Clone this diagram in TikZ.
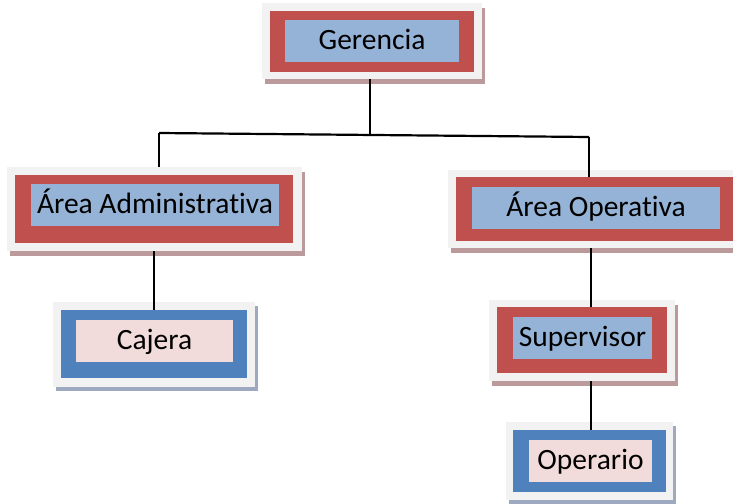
\documentclass[tikz,border=0pt]{standalone}
\usepackage{fontspec}
\setmainfont{Carlito}[Ligatures=NoCommon]
\usetikzlibrary{shadows}
\definecolor{frameg}{HTML}{F2F2F2}
\definecolor{rborder}{HTML}{C0504D}
\definecolor{rinner}{HTML}{95B3D7}
\definecolor{rshadow}{HTML}{BC9A9B}
\definecolor{bborder}{HTML}{4F81BD}
\definecolor{binner}{HTML}{F2DCDB}
\definecolor{bshadow}{HTML}{9CA9BE}
\begin{document}
\begin{tikzpicture}[x=1pt,y=-1pt,
  frame/.style={rectangle, fill=frameg, inner sep=0pt},
  redshadow/.style={general shadow={fill=rshadow, shadow xshift=3pt, shadow yshift=-5pt}},
  blueshadow/.style={general shadow={fill=bshadow, shadow xshift=3pt, shadow yshift=-4pt}},
  redband/.style={rectangle, fill=rborder, inner sep=0pt},
  blueband/.style={rectangle, fill=bborder, inner sep=0pt},
  redlabel/.style={rectangle, fill=rinner, inner sep=0pt, minimum height=42pt,
    font=\fontsize{29.5}{34}\selectfont, text height=20pt, text depth=4pt},
  bluelabel/.style={rectangle, fill=binner, inner sep=0pt, minimum height=42pt,
    font=\fontsize{29.5}{34}\selectfont, text height=20pt, text depth=4pt},
  conn/.style={draw=black, line width=2.2pt}
]
\useasboundingbox (0,0) rectangle (733,503);
\clip (0,0) rectangle (733,503);

% Gerencia
\node[frame, redshadow, minimum width=220pt, minimum height=76pt] (ger) at (372,41) {};
\node[redband, minimum width=204pt, minimum height=61pt] (gerR) at (372,41.5) {};
\node[redlabel, minimum width=174pt] (gerT) at (372,41) {Gerencia};

% Área Administrativa
\node[frame, redshadow, minimum width=295pt, minimum height=84pt] (adm) at (154.5,209) {};
\node[redband, minimum width=278pt, minimum height=68pt] (admR) at (154,209) {};
\node[redlabel, minimum width=248pt] (admT) at (155,205) {Área Administrativa};

% Área Operativa
\node[frame, redshadow, minimum width=296pt, minimum height=78pt] (opv) at (596,209) {};
\node[redband, minimum width=280pt, minimum height=64pt] (opvR) at (596,209) {};
\node[redlabel, minimum width=248pt] (opvT) at (596,208) {Área Operativa};

% Cajera
\node[frame, blueshadow, minimum width=202pt, minimum height=85pt] (caj) at (154,344.5) {};
\node[blueband, minimum width=186pt, minimum height=68pt] (cajR) at (154,344) {};
\node[bluelabel, minimum width=157pt] (cajT) at (154.5,341) {Cajera};

% Supervisor
\node[frame, redshadow, minimum width=186pt, minimum height=81pt] (sup) at (582,340.5) {};
\node[redband, minimum width=170pt, minimum height=66pt] (supR) at (582,340) {};
\node[redlabel, minimum width=139pt] (supT) at (582.5,338) {Supervisor};

% Operario
\node[frame, blueshadow, minimum width=167pt, minimum height=78pt] (ope) at (589.5,461) {};
\node[blueband, minimum width=153pt, minimum height=62pt] (opeR) at (589.5,461) {};
\node[bluelabel, minimum width=123pt] (opeT) at (590.5,461) {Operario};

% connectors
\coordinate (jm) at (370,135);
\coordinate (jl) at (159,133);
\coordinate (jr) at (589,137);
\coordinate (c1) at (154,0);
\coordinate (c2) at (591,0);
\draw[conn] (jm |- ger.south) -- (jm);
\draw[conn] (jl) -- (jr);
\draw[conn] (jl) -- (jl |- adm.north);
\draw[conn] (jr) -- (jr |- opvR.north);
\draw[conn] (c1 |- adm.south) -- (c1 |- cajR.north);
\draw[conn] (c2 |- opv.south) -- (c2 |- supR.north);
\draw[conn] (c2 |- sup.south) -- (c2 |- opeR.north);
\end{tikzpicture}
\end{document}
